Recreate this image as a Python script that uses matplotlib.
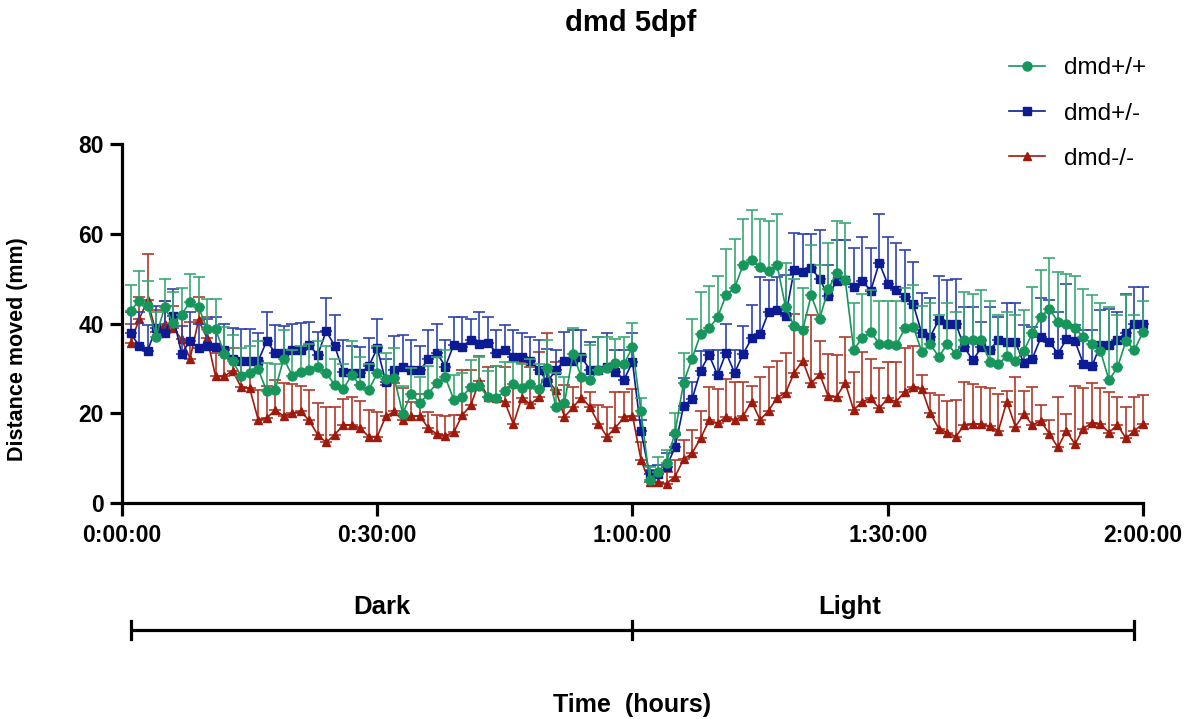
import matplotlib
matplotlib.use('Agg')
import matplotlib.pyplot as plt
import numpy as np

plt.rcParams['font.family'] = ['Liberation Sans', 'DejaVu Sans']

# minutes since start (one point per minute)
minutes = np.arange(1, 121)

# dmd+/+ (mean and top of the error bar, mm)
wt_mean = [42.8, 45.1, 44.0, 37.1, 43.6, 40.2, 42.0, 44.8, 43.7, 38.7,
           38.8, 33.3, 31.7, 28.2, 28.9, 29.8, 25.0, 25.2, 32.2, 28.4,
           29.3, 29.6, 30.2, 29.0, 26.3, 25.4, 28.5, 26.2, 25.2, 28.9,
           27.6, 27.8, 19.9, 24.4, 22.2, 24.4, 26.7, 28.0, 23.0, 23.7,
           25.9, 26.0, 23.7, 23.3, 25.0, 26.5, 25.7, 26.5, 25.3, 30.0,
           21.3, 22.2, 33.2, 28.0, 27.4, 29.6, 30.0, 31.1, 31.0, 34.7,
           20.4, 5.1, 7.0, 9.0, 15.7, 26.8, 32.2, 37.6, 38.9, 41.4,
           46.3, 48.0, 53.0, 54.1, 52.5, 51.7, 53.0, 43.6, 39.4, 38.5,
           46.3, 41.1, 47.6, 51.3, 49.8, 34.2, 36.7, 38.2, 35.4, 35.4,
           35.2, 38.9, 39.3, 33.7, 35.4, 32.6, 35.4, 33.3, 36.3, 36.4,
           36.3, 31.5, 31.0, 32.7, 31.7, 33.9, 37.9, 41.5, 43.3, 40.4,
           40.0, 38.9, 37.0, 35.5, 33.9, 27.4, 30.2, 36.1, 34.1, 38.1]
wt_top = [48.6, 51.8, 49.5, 42.5, 50.0, 47.0, 48.0, 51.0, 50.4, 45.4,
          45.4, 39.3, 37.5, 34.5, 35.0, 36.0, 31.1, 31.0, 38.5, 34.0,
          35.0, 35.5, 36.0, 35.0, 32.0, 31.0, 36.0, 32.5, 31.0, 35.0,
          33.5, 34.5, 26.0, 30.0, 28.0, 30.5, 32.5, 34.0, 28.5, 29.0,
          31.8, 32.5, 29.5, 30.5, 31.5, 31.5, 31.0, 32.0, 31.0, 36.3,
          29.0, 28.0, 39.1, 33.0, 35.2, 37.0, 37.0, 36.5, 37.1, 40.2,
          23.5, 8.1, 10.3, 11.8, 20.1, 33.5, 40.9, 47.1, 48.3, 50.6,
          56.7, 58.9, 63.4, 65.2, 63.2, 62.9, 64.4, 53.5, 50.0, 48.0,
          57.5, 53.0, 58.0, 62.9, 62.3, 44.6, 46.5, 47.5, 45.0, 45.0,
          45.0, 48.0, 48.5, 44.0, 44.5, 42.0, 44.5, 42.5, 47.1, 46.5,
          47.4, 45.0, 42.0, 42.5, 42.0, 43.0, 48.2, 51.9, 54.5, 51.5,
          51.0, 50.5, 47.8, 46.3, 44.5, 43.6, 42.0, 46.3, 42.0, 45.0]

# dmd+/-
het_mean = [37.8, 35.1, 33.9, 39.0, 37.8, 41.7, 33.3, 36.1, 34.5, 35.0,
            34.7, 34.2, 32.2, 31.7, 31.7, 31.6, 36.1, 33.5, 33.5, 34.1,
            34.2, 35.2, 33.0, 38.3, 35.0, 29.3, 28.9, 28.9, 30.5, 34.5,
            27.0, 29.6, 30.4, 29.6, 29.6, 32.0, 33.5, 30.4, 35.3, 34.8,
            36.4, 35.5, 35.7, 33.5, 34.0, 32.6, 32.6, 31.7, 29.7, 27.0,
            29.7, 31.7, 31.7, 32.6, 29.6, 29.6, 30.2, 29.2, 27.5, 31.4,
            16.0, 6.5, 6.5, 8.1, 12.4, 21.6, 23.1, 29.5, 33.0, 28.5,
            33.5, 29.0, 33.2, 36.7, 37.6, 42.6, 43.1, 41.6, 52.0, 51.5,
            52.3, 50.0, 46.1, 49.5, 49.8, 48.2, 49.5, 47.3, 53.5, 48.8,
            47.4, 46.0, 44.3, 37.8, 37.1, 40.8, 40.0, 40.0, 34.7, 31.8,
            34.7, 34.2, 36.3, 35.9, 35.9, 31.1, 32.2, 36.9, 35.9, 33.3,
            36.5, 36.1, 31.0, 30.5, 35.2, 35.2, 36.4, 37.9, 40.0, 40.0]
het_top = [42.5, 42.6, 39.7, 44.0, 45.0, 47.8, 39.5, 42.5, 40.0, 41.0,
           41.4, 40.0, 39.0, 38.8, 38.8, 37.8, 42.6, 39.7, 39.5, 40.0,
           40.2, 40.4, 38.2, 45.6, 41.9, 36.3, 35.0, 34.8, 36.7, 41.1,
           32.2, 37.2, 37.4, 36.3, 35.0, 38.5, 40.0, 36.3, 41.5, 41.5,
           40.9, 42.6, 41.5, 38.6, 39.6, 38.6, 37.8, 37.0, 36.3, 34.4,
           34.0, 38.1, 38.5, 38.6, 35.9, 37.0, 37.8, 34.0, 34.0, 37.8,
           18.5, 8.3, 8.5, 11.1, 15.2, 27.8, 27.0, 33.9, 34.1, 34.1,
           40.0, 34.1, 39.4, 44.1, 50.3, 49.8, 50.3, 50.8, 60.2, 60.0,
           59.9, 60.9, 53.0, 58.6, 58.6, 56.9, 59.3, 56.9, 64.4, 59.3,
           58.0, 56.3, 53.7, 46.7, 45.6, 50.6, 49.8, 50.0, 43.7, 43.7,
           40.4, 43.7, 41.5, 44.5, 44.5, 39.6, 39.3, 45.6, 45.2, 42.6,
           48.8, 39.6, 38.5, 38.5, 43.1, 43.3, 42.6, 46.5, 48.2, 48.2]

# dmd-/-
ko_mean = [35.6, 40.9, 45.2, 38.0, 40.0, 39.0, 36.5, 32.2, 40.8, 36.7,
           28.2, 28.2, 29.5, 25.8, 25.6, 18.6, 18.9, 20.7, 19.4, 20.0,
           20.4, 18.4, 15.2, 13.5, 15.2, 17.4, 17.4, 16.7, 14.8, 14.8,
           19.3, 20.4, 18.4, 19.3, 19.4, 16.7, 15.4, 15.0, 15.8, 19.6,
           21.8, 27.2, 23.7, 23.3, 22.5, 17.6, 23.5, 22.0, 23.6, 27.4,
           25.1, 19.2, 21.3, 23.5, 21.4, 17.7, 14.8, 16.8, 19.1, 19.5,
           9.6, 4.6, 4.6, 4.3, 5.9, 9.7, 11.1, 14.4, 18.4, 17.8,
           19.2, 18.5, 19.4, 22.6, 18.5, 20.6, 23.5, 24.6, 29.0, 31.7,
           26.7, 28.7, 23.8, 23.7, 26.8, 20.7, 22.6, 23.3, 21.1, 23.3,
           22.6, 24.8, 25.9, 25.5, 20.0, 16.6, 15.7, 14.8, 17.4, 17.6,
           17.6, 17.1, 16.1, 22.6, 17.0, 19.8, 17.4, 18.3, 15.4, 12.4,
           16.1, 13.1, 16.6, 17.9, 17.6, 15.7, 17.4, 14.4, 16.1, 17.7]
ko_top = [40.0, 46.0, 55.5, 43.0, 45.0, 44.0, 41.5, 40.4, 46.0, 41.5,
          33.5, 33.0, 34.5, 31.5, 31.0, 25.2, 26.0, 27.4, 26.7, 26.5,
          26.0, 25.2, 22.2, 21.5, 21.5, 23.1, 23.7, 22.8, 20.8, 20.2,
          26.3, 26.7, 25.6, 22.6, 24.4, 20.2, 19.6, 19.3, 19.6, 29.6,
          29.6, 32.7, 30.2, 30.5, 30.3, 25.9, 31.2, 30.2, 33.7, 37.8,
          31.5, 26.3, 25.9, 28.0, 24.8, 21.9, 21.5, 24.8, 24.8, 25.5,
          13.5, 7.4, 7.0, 6.8, 9.6, 14.1, 16.3, 20.6, 25.9, 25.5,
          27.6, 27.0, 27.0, 26.0, 28.0, 30.4, 31.7, 33.5, 42.1, 39.3,
          42.0, 36.0, 33.2, 33.0, 37.1, 29.3, 33.7, 32.2, 30.0, 31.5,
          31.5, 34.5, 35.0, 28.5, 24.6, 24.1, 22.8, 23.0, 27.0, 26.6,
          25.9, 25.7, 24.4, 25.0, 28.1, 25.0, 25.9, 21.8, 18.6, 23.7,
          19.8, 26.1, 25.6, 26.8, 25.6, 24.8, 23.7, 21.5, 23.7, 24.0]

phase_names = ['Dark', 'Light']
phase_edges = [1, 60, 119]
phase_label_pos = [30.5, 85.5]

x_ticks = [0, 30, 60, 90, 120]
x_ticklabels = ['0:00:00', '0:30:00', '1:00:00', '1:30:00', '2:00:00']

fig = plt.figure(figsize=(11.88, 7.19), dpi=100)
ax = fig.add_axes([0.1027, 0.3004, 0.8594, 0.4993])

series = [
    ('dmd+/+', wt_mean, wt_top, '#17965c', '#3aa874', 'o', 6.5, 4),
    ('dmd+/-', het_mean, het_top, '#0c1b93', '#2e43b0', 's', 6.0, 3),
    ('dmd-/-', ko_mean, ko_top, '#9e1a0c', '#b23a2a', '^', 6.0, 2),
]

handles = []
for name, mean, top, col, ecol, mk, ms, z in series:
    mean = np.array(mean)
    up = np.array(top) - mean
    eb = ax.errorbar(minutes, mean, yerr=[np.zeros_like(up), up],
                     color=col, ecolor=ecol, marker=mk, markersize=ms,
                     linewidth=1.2, elinewidth=1.2, capsize=4.5, capthick=1.2,
                     zorder=z, clip_on=False)
    handles.append((eb.lines[0], name))

ax.set_xlim(0, 120)
ax.set_ylim(0, 80)
ax.set_yticks([0, 20, 40, 60, 80])
ax.set_xticks(x_ticks)
ax.set_xticklabels(x_ticklabels)
for s in ['top', 'right']:
    ax.spines[s].set_visible(False)
for s in ['left', 'bottom']:
    ax.spines[s].set_linewidth(2.3)
ax.tick_params(width=2.3, length=9, labelsize=16.5)
ax.tick_params(axis='x', pad=6)
ax.tick_params(axis='y', pad=4)
for lab in ax.get_xticklabels() + ax.get_yticklabels():
    lab.set_fontweight('bold')

ax.set_ylabel('Distance moved (mm)', fontsize=15.5, fontweight='bold')
ax.yaxis.set_label_coords(-0.092, 0.43)
ax.set_xlabel('Time  (hours)', fontsize=18, fontweight='bold')
ax.xaxis.set_label_coords(0.5, -0.53)

# dark / light phase bar under the axis
tr = ax.get_xaxis_transform()
ax.plot([phase_edges[0], phase_edges[-1]], [-0.354, -0.354], color='black',
        lw=2.3, transform=tr, clip_on=False, solid_capstyle='butt')
for e in phase_edges:
    ax.plot([e, e], [-0.378, -0.33], color='black', lw=2.3, transform=tr,
            clip_on=False)
for name, pos in zip(phase_names, phase_label_pos):
    ax.text(pos, -0.29, name, transform=tr, ha='center', va='center',
            fontsize=18.5, fontweight='bold')

fig.suptitle('dmd 5dpf', x=0.531, y=0.968, va='center', fontsize=21,
             fontweight='bold')

fig.legend([h for h, n in handles], [n for h, n in handles],
           loc='upper right', bbox_to_anchor=(0.975, 0.937), frameon=False,
           fontsize=17.5, handlelength=1.45, handletextpad=0.8,
           labelspacing=0.95, borderpad=0)

fig.savefig('out.png', dpi=100)
